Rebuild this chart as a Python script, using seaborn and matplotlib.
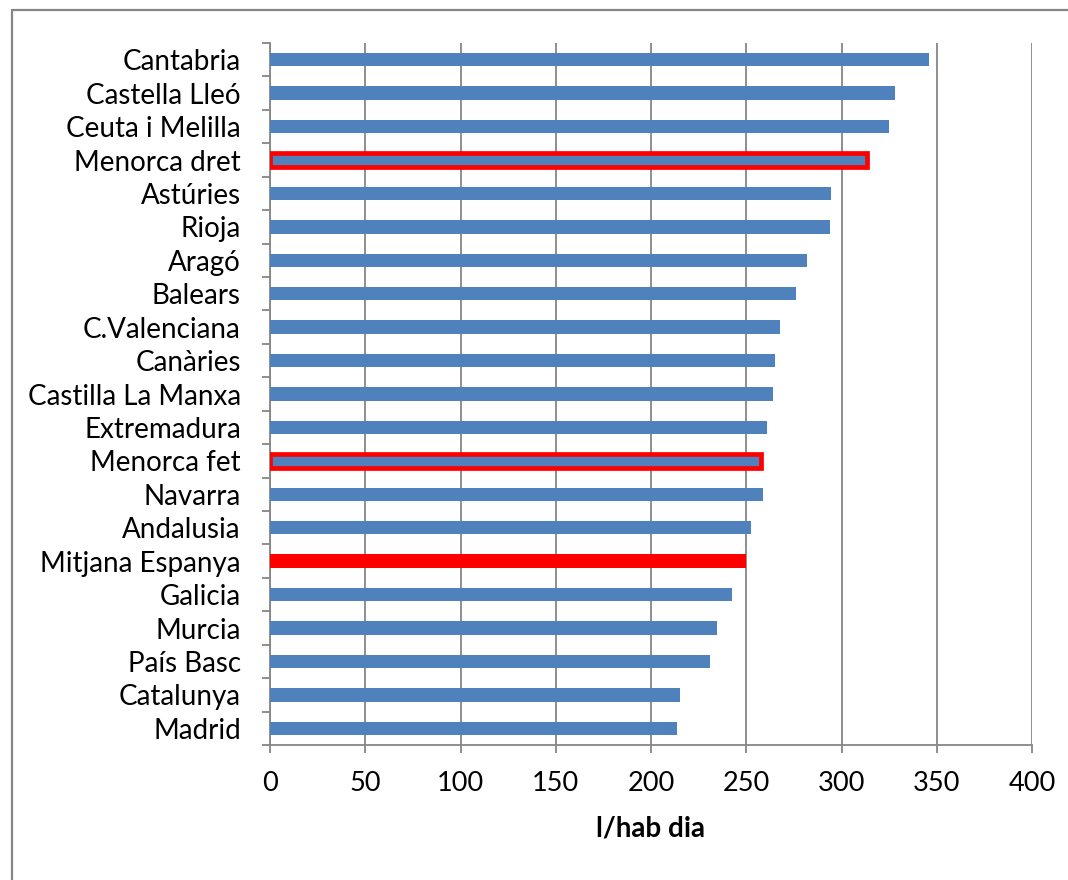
import numpy as np
import pandas as pd
import seaborn as sns
import matplotlib.pyplot as plt
from matplotlib.lines import Line2D

comunitats = ['Cantabria', 'Castella Lleó', 'Ceuta i Melilla', 'Menorca dret', 'Astúries',
              'Rioja', 'Aragó', 'Balears', 'C.Valenciana', 'Canàries', 'Castilla La Manxa',
              'Extremadura', 'Menorca fet', 'Navarra', 'Andalusia', 'Mitjana Espanya',
              'Galicia', 'Murcia', 'País Basc', 'Catalunya', 'Madrid']
consum = [346, 328, 325, 313.5, 294.6, 293.9, 281.7, 276.3, 267.5, 265.3, 263.8,
          260.7, 257.7, 258.6, 252.3, 250, 242.6, 234.4, 231.2, 215.4, 213.8]
ressaltats = ['Menorca dret', 'Menorca fet']
mitjana = 'Mitjana Espanya'
ticks_x = [0, 50, 100, 150, 200, 250, 300, 350, 400]

blau = '#4F81BD'
vermell = '#FF0000'
gris = '#868686'

sns.set_style('white')
plt.rcParams['font.family'] = ['Lato', 'DejaVu Sans']

datos = pd.DataFrame({'comunitat': comunitats, 'consum': consum})
colors = {c: (vermell if c == mitjana else blau) for c in comunitats}

fig = plt.figure(figsize=(10.68, 8.8), dpi=100)
ax = fig.add_axes([270 / 1068, 1 - 745 / 880, (1032 - 270) / 1068, (745 - 43) / 880])

sns.barplot(data=datos, x='consum', y='comunitat', hue='comunitat', palette=colors,
            orient='h', width=0.4, saturation=1, legend=False, ax=ax, zorder=3)

# contorn vermell per a les barres de Menorca
for patch, nom in zip(ax.patches, comunitats):
    patch.set_linewidth(0)
    if nom in ressaltats:
        patch.set_edgecolor(vermell)
        patch.set_linewidth(3.4)

ax.set_xlim(0, 400)
ax.set_ylim(len(comunitats) - 0.5, -0.5)
ax.set_xticks(ticks_x)
ax.set_xticklabels([str(t) for t in ticks_x])
ax.set_yticks(range(len(comunitats)))
ax.set_yticks(np.arange(-0.5, len(comunitats), 1), minor=True)

ax.grid(axis='x', color=gris, linewidth=1.3, zorder=0)
ax.set_axisbelow(True)
for s in ['top', 'right']:
    ax.spines[s].set_visible(False)
for s in ['left', 'bottom']:
    ax.spines[s].set_color(gris)
    ax.spines[s].set_linewidth(1.3)

ax.tick_params(axis='y', which='major', length=0, pad=21, labelsize=20, colors='#000000')
ax.tick_params(axis='y', which='minor', length=6, width=1.3, color=gris, direction='out', left=True)
ax.tick_params(axis='x', which='major', length=6, width=1.3, color=gris, direction='out',
               pad=13, labelsize=19.5, labelcolor='#000000', bottom=True)

ax.set_xlabel('l/hab dia', fontsize=20, fontweight='bold', labelpad=14, color='#000000')
ax.set_ylabel('')

# marc del gràfic
fig.add_artist(Line2D([12 / 1068, 12 / 1068], [0, 1 - 10 / 880], color=gris, linewidth=1.6))
fig.add_artist(Line2D([12 / 1068, 1], [1 - 10 / 880, 1 - 10 / 880], color=gris, linewidth=1.6))

fig.savefig('out.png', dpi=100)
